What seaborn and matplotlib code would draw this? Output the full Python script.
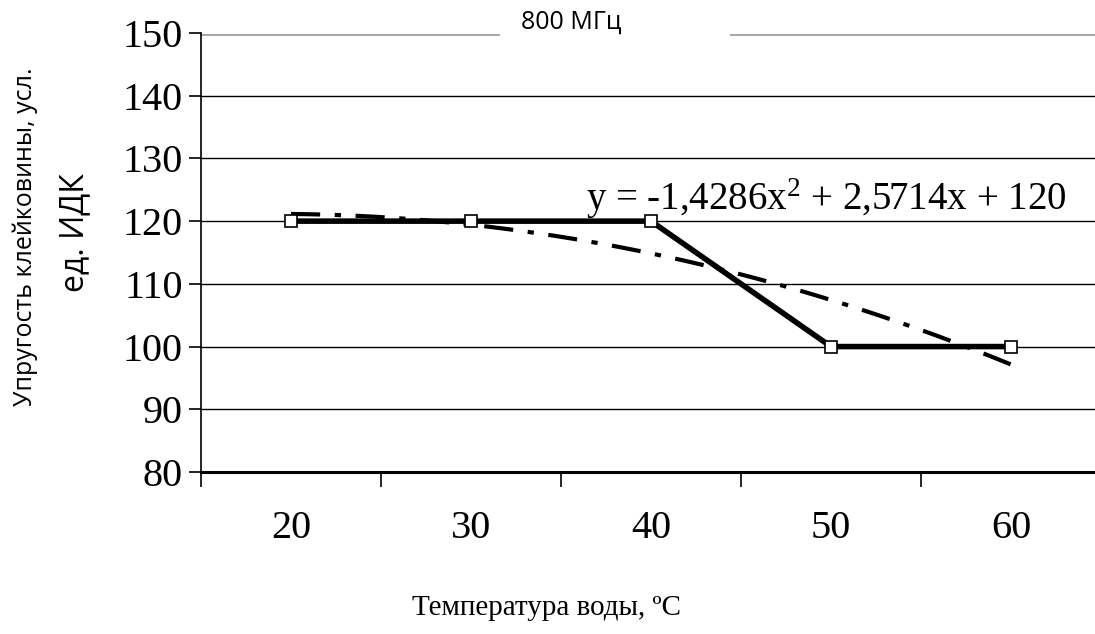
import numpy as np
import pandas as pd
import matplotlib
matplotlib.use("Agg")
import matplotlib.pyplot as plt
from matplotlib.patches import Rectangle
import seaborn as sns

categories = ["20", "30", "40", "50", "60"]
values = [120, 120, 120, 100, 100]
y_ticks = [80, 90, 100, 110, 120, 130, 140, 150]
title = "800 МГц"
equation = "y = -1,4286x$^2$ + 2,5714x + 120"
x_label = "Температура воды, ºC"
y_label1 = "Упругость клейковины, усл."
y_label2 = "ед. ИДК"

sns.set_theme(style="white")
plt.rcParams['font.family'] = ['Liberation Serif', 'DejaVu Serif']
plt.rcParams['text.color'] = 'black'
plt.rcParams['axes.labelcolor'] = 'black'
plt.rcParams['xtick.color'] = 'black'
plt.rcParams['ytick.color'] = 'black'
plt.rcParams['mathtext.fontset'] = 'custom'
plt.rcParams['mathtext.rm'] = 'Liberation Serif'
plt.rcParams['mathtext.it'] = 'Liberation Serif'
plt.rcParams['mathtext.default'] = 'regular'

W, H = 1095, 634
fig = plt.figure(figsize=(W / 100, H / 100), dpi=100)
ax = fig.add_axes([201 / W, (H - 472) / H, 900 / W, (472 - 33) / H])

pos = np.arange(len(categories))
df = pd.DataFrame({"x": pos, "y": values})

# horizontal gridlines
for v in y_ticks[1:-1]:
    ax.axhline(v, color="black", lw=1.0, zorder=1)
ax.axhline(150, color="#a8a8a8", lw=3.6, zorder=1)
ax.axhline(150, color="white", lw=1.4, zorder=1.1)

# trend line (2nd order polynomial fit)
sns.regplot(data=df, x="x", y="y", order=2, ci=None, scatter=False,
            truncate=True, ax=ax,
            line_kws=dict(color="black", lw=3, linestyle=(0, (7, 3.5, 1.5, 3.5)), zorder=3))

sns.lineplot(data=df, x="x", y="y", ax=ax, color="black", lw=4,
             marker="s", markersize=9, markerfacecolor="white",
             markeredgecolor="black", markeredgewidth=1.2, zorder=4)

ax.set_xlim(-0.5, 4.45)
ax.set_ylim(80, 150)
ax.set_yticks(y_ticks)
ax.set_yticklabels([str(v) for v in y_ticks], fontsize=29)
ax.set_xticks(pos)
ax.set_xticklabels(categories, fontsize=29)
ax.set_xticks(np.arange(-0.5, 4.6, 1.0), minor=True)
ax.tick_params(axis="x", which="major", length=0, pad=27, bottom=True)
ax.tick_params(axis="x", which="minor", length=11, width=1.2, color="black",
               direction="out", bottom=True)
ax.tick_params(axis="y", which="major", length=9, width=1.2, color="black",
               direction="out", pad=4, left=True)
ax.set_xlabel("")
ax.set_ylabel("")

for s in ["top", "right"]:
    ax.spines[s].set_visible(False)
ax.spines["left"].set_color("black")
ax.spines["left"].set_linewidth(1.2)
ax.spines["bottom"].set_color("black")
ax.spines["bottom"].set_linewidth(2.2)

ax.text(1.64, 121.8, equation, fontsize=28, ha="left", va="baseline", zorder=5)

# title with white box covering the top gridline
fig.add_artist(Rectangle((500 / W, 1 - 45 / H), (730 - 500) / W, 40 / H,
                         transform=fig.transFigure, facecolor="white",
                         edgecolor="none", zorder=10))
fig.text(571 / W, 1 - 22 / H, title, fontsize=18, ha="center", va="center",
         family=["Open Sans", "DejaVu Sans"], zorder=11)

fig.text(546 / W, 1 - 608 / H, x_label, fontsize=21, ha="center", va="center")
fig.text(25 / W, 1 - 237 / H, y_label1, fontsize=18, rotation=90,
         ha="center", va="center", family=["Open Sans", "DejaVu Sans"])
fig.text(75 / W, 1 - 233 / H, y_label2, fontsize=23, rotation=90,
         ha="center", va="center", family=["Open Sans", "DejaVu Sans"])

fig.savefig("out.png", dpi=100, facecolor="white")
